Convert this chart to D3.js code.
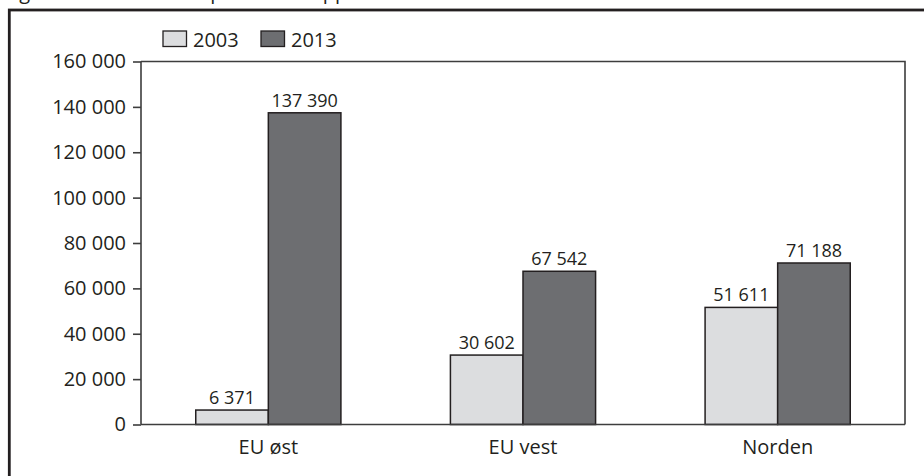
<!DOCTYPE html>
<html>
<head>
<meta charset="utf-8">
<script src="https://cdn.jsdelivr.net/npm/d3@7"></script>
<style>
  html, body { margin: 0; padding: 0; background: #fff; }
  svg { display: block; font-family: "Open Sans", "Noto Sans", sans-serif; }
</style>
</head>
<body>
<svg id="chart" width="924" height="476"></svg>
<script>
// Regions and the two survey years
const categories = ["EU øst", "EU vest", "Norden"];
const years = ["2003", "2013"];
const values2003 = [6371, 30602, 51611];
const values2013 = [137390, 67542, 71188];
const yTicks = [0, 20000, 40000, 60000, 80000, 100000, 120000, 140000, 160000];
const caption = "Figur 3.2 Lønnstakere på korttidsopphold";

const seriesValues = { "2003": values2003, "2013": values2013 };
const fills = { "2003": "#dcdddf", "2013": "#6d6e71" };
const ink = "#231f20";

const svg = d3.select("#chart");
const W = 924, H = 476;
const plot = { left: 141, right: 905, top: 61.5, bottom: 424.5 };

const nb = d3.formatLocale({ decimal: ",", thousands: " ", grouping: [3], currency: ["", ""] });
const fmt = nb.format(",d");

// Caption line above the frame (runs off the top edge of the page)
svg.append("text")
  .attr("x", 4).attr("y", -1)
  .attr("font-size", 20).attr("fill", ink)
  .text(caption);

// Outer frame
svg.append("rect")
  .attr("x", 9.3).attr("y", 10).attr("width", W + 40).attr("height", H + 40)
  .attr("fill", "none").attr("stroke", ink).attr("stroke-width", 2.8);

const x0 = d3.scaleBand().domain(categories)
  .range([plot.left, plot.right]).paddingInner(0.43).paddingOuter(0.215);
const x1 = d3.scaleBand().domain(years).range([0, x0.bandwidth()]);
const y = d3.scaleLinear().domain([0, 160000]).range([plot.bottom, plot.top]);

// Plot box (top and right edges)
svg.append("path")
  .attr("d", `M${plot.left},${y(160000)}H${plot.right}V${y(0)}`)
  .attr("fill", "none").attr("stroke", "#3d3d3d").attr("stroke-width", 1.6);

// Bars
const rows = categories.map((c, i) => ({ cat: c, vals: years.map(yr => ({ yr, v: seriesValues[yr][i] })) }));
const groups = svg.append("g").selectAll("g").data(rows).join("g")
  .attr("transform", d => `translate(${x0(d.cat)},0)`);

groups.selectAll("rect").data(d => d.vals).join("rect")
  .attr("x", d => x1(d.yr))
  .attr("y", d => y(d.v))
  .attr("width", x1.bandwidth())
  .attr("height", d => y(0) - y(d.v))
  .attr("fill", d => fills[d.yr])
  .attr("stroke", ink).attr("stroke-width", 1.5);

groups.selectAll("text").data(d => d.vals).join("text")
  .attr("x", d => x1(d.yr) + x1.bandwidth() / 2)
  .attr("y", d => y(d.v) - 6)
  .attr("text-anchor", "middle")
  .attr("font-size", 18).attr("fill", ink)
  .text(d => fmt(d.v));

// Y axis
const yAxis = svg.append("g").attr("transform", `translate(${plot.left},0)`)
  .call(d3.axisLeft(y).tickValues(yTicks).tickFormat(fmt).tickSize(8).tickPadding(7));
yAxis.selectAll("path, line").attr("stroke", "#3d3d3d").attr("stroke-width", 1.6);
yAxis.select(".domain").attr("d", `M0,${y(160000)}V${y(0)}`);
yAxis.selectAll("text").attr("font-size", 20).attr("fill", ink)
  .attr("font-family", "Open Sans, Noto Sans, sans-serif");

// X axis baseline and category labels
const xAxis = svg.append("g").attr("transform", `translate(0,${y(0)})`)
  .call(d3.axisBottom(x0).tickSize(0).tickPadding(15));
xAxis.select(".domain").attr("d", `M${plot.left},0H${plot.right}`)
  .attr("stroke", "#3d3d3d").attr("stroke-width", 1.6);
xAxis.selectAll("text").attr("font-size", 20).attr("fill", ink)
  .attr("font-family", "Open Sans, Noto Sans, sans-serif");

// Legend
const legend = svg.append("g").selectAll("g").data(years).join("g")
  .attr("transform", (d, i) => `translate(${163 + i * 98},31)`);
legend.append("rect")
  .attr("width", 23.5).attr("height", 15.5)
  .attr("fill", d => fills[d]).attr("stroke", ink).attr("stroke-width", 1.3);
legend.append("text")
  .attr("x", 30).attr("y", 15.5)
  .attr("font-size", 20).attr("fill", ink)
  .text(d => d);
</script>
</body>
</html>
